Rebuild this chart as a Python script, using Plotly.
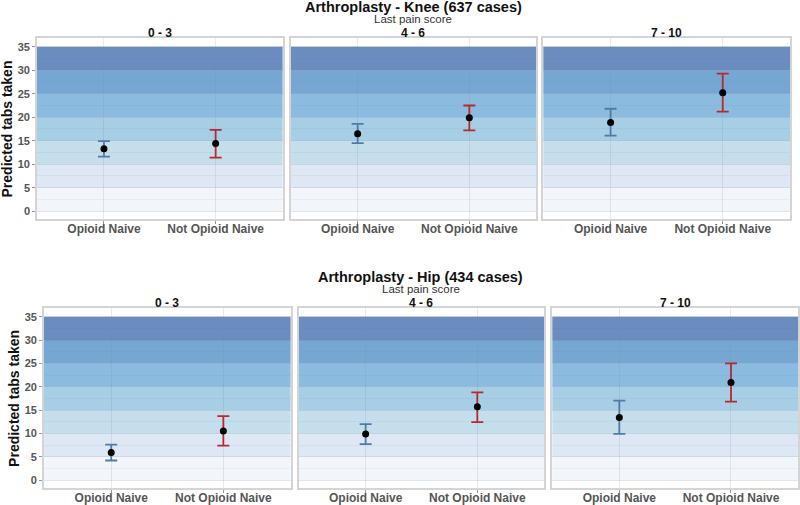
import plotly.graph_objects as go

W, H = 800, 505

categories = ["Opioid Naive", "Not Opioid Naive"]
pain_groups = ["0 - 3", "4 - 6", "7 - 10"]

knee_point = [[13.3, 14.4], [16.5, 19.9], [18.9, 25.2]]
knee_low = [[11.6, 11.4], [14.5, 17.2], [16.1, 21.2]]
knee_high = [[14.9, 17.3], [18.6, 22.5], [21.8, 29.3]]

hip_point = [[5.9, 10.5], [9.9, 15.7], [13.4, 20.9]]
hip_low = [[4.2, 7.4], [7.7, 12.4], [9.9, 16.8]]
hip_high = [[7.6, 13.7], [12.0, 18.8], [17.0, 25.0]]

band_edges = [0, 5, 10, 15, 20, 25, 30, 35]
band_colors = ["#f2f6fb", "#dee8f4", "#c5deec", "#a6cee5", "#8bbcdf", "#76a7d2", "#6a8cbe"]
bar_colors = ["#4f7ba6", "#b8282e"]

tick_vals = [0, 5, 10, 15, 20, 25, 30, 35]

FONT = "Liberation Sans, Arial, sans-serif"

rows = [
    dict(title="Arthroplasty - Knee (637 cases)", pt=knee_point, lo=knee_low, hi=knee_high,
         xpx=[(37, 283), (291, 537), (544, 791)], ypx=(38, 220), ytx=7),
    dict(title="Arthroplasty - Hip (434 cases)", pt=hip_point, lo=hip_low, hi=hip_high,
         xpx=[(44, 291), (299, 545), (553, 799)], ypx=(309, 490), ytx=14),
]

fig = go.Figure()
shapes = []
annotations = []
ax = 0
for r, row in enumerate(rows):
    y0p, y1p = row["ypx"]
    ydom = [1 - y1p / H, 1 - y0p / H]
    for c in range(3):
        ax += 1
        sfx = "" if ax == 1 else str(ax)
        xname, yname = "x" + sfx, "y" + sfx
        x0p, x1p = row["xpx"][c]
        xdom = [x0p / W, x1p / W]
        for k, cat in enumerate(categories):
            p = row["pt"][c][k]
            fig.add_trace(go.Scatter(
                x=[cat], y=[p], xaxis=xname, yaxis=yname, mode="markers",
                marker=dict(color="black", size=7),
                error_y=dict(type="data", symmetric=False,
                             array=[row["hi"][c][k] - p], arrayminus=[p - row["lo"][c][k]],
                             color=bar_colors[k], thickness=1.8, width=6),
                showlegend=False, hoverinfo="skip"))
        fig.layout["xaxis" + sfx] = dict(
            domain=xdom, anchor=yname, type="category", categoryorder="array",
            categoryarray=categories, range=[-0.6, 1.6],
            showgrid=True, gridcolor="rgba(120,140,170,0.18)", gridwidth=1,
            showline=True, linecolor="#d4d4d4", mirror=True, linewidth=1.5,
            ticks="outside", ticklen=3, tickcolor="#999999", ticklabelstandoff=-5,
            tickfont=dict(family=FONT, size=12, color="#555555", weight="bold"),
            zeroline=False, fixedrange=True)
        ydict = dict(
            domain=ydom, anchor=xname, range=[-1.7, 36.9],
            tickvals=tick_vals, showgrid=True, gridcolor="rgba(90,110,150,0.10)",
            minor=dict(dtick=2.5, tick0=0, showgrid=True, gridcolor="rgba(90,110,150,0.07)"),
            showline=True, linecolor="#d4d4d4", mirror=True, linewidth=1.5,
            zeroline=False, fixedrange=True)
        if c == 0:
            ydict.update(ticks="outside", ticklen=3, tickcolor="#999999",
                         tickfont=dict(family=FONT, size=11, color="#555555", weight="bold"),
                         showticklabels=True)
        else:
            ydict.update(showticklabels=False, ticks="")
        fig.layout["yaxis" + sfx] = ydict
        for b in range(len(band_colors)):
            shapes.append(dict(type="rect", xref=xname + " domain", yref=yname,
                               x0=0, x1=1, y0=band_edges[b], y1=band_edges[b + 1],
                               fillcolor=band_colors[b], line=dict(width=0), layer="below"))
        annotations.append(dict(text="<b>" + pain_groups[c] + "</b>", x=(xdom[0] + xdom[1]) / 2,
                                y=1 - (y0p - 5) / H, xref="paper", yref="paper", xanchor="center",
                                yanchor="middle", showarrow=False,
                                font=dict(family=FONT, size=12, color="#111111")))
    cx = (row["xpx"][0][0] + row["xpx"][2][1]) / 2 / W
    annotations.append(dict(text="<b>" + row["title"] + "</b>", x=cx, y=1 - (y0p - 30.5) / H,
                            xref="paper", yref="paper", xanchor="center", yanchor="middle",
                            showarrow=False,
                            font=dict(family=FONT, size=14.5, color="#111111")))
    annotations.append(dict(text="Last pain score", x=cx, y=1 - (y0p - 19) / H,
                            xref="paper", yref="paper", xanchor="center", yanchor="middle",
                            showarrow=False,
                            font=dict(family=FONT, size=11.5, color="#333333")))
    annotations.append(dict(text="<b>Predicted tabs taken</b>", x=row["ytx"] / W,
                            y=1 - ((y0p + y1p) / 2) / H, xref="paper", yref="paper",
                            xanchor="center", yanchor="middle", textangle=-90, showarrow=False,
                            font=dict(family=FONT, size=14, color="#111111")))

fig.update_layout(width=W, height=H, margin=dict(l=0, r=0, t=0, b=0),
                  paper_bgcolor="white", plot_bgcolor="white",
                  shapes=shapes, annotations=annotations, showlegend=False)

fig.write_html(
    "out.html",
    config={"displayModeBar": False},
    post_script=(
        "var de=document.documentElement, bd=document.body;"
        "[de, bd].forEach(function(e){e.style.margin='0';e.style.padding='0';"
        "e.style.overflow='hidden';e.style.height='505px';});"
        "var gd=document.getElementById('{plot_id}');"
        "gd.style.overflow='hidden';gd.style.height='505px';"
        "Array.prototype.forEach.call(document.querySelectorAll('svg.main-svg'),"
        "function(s){s.style.overflow='hidden';});"
    ),
)
